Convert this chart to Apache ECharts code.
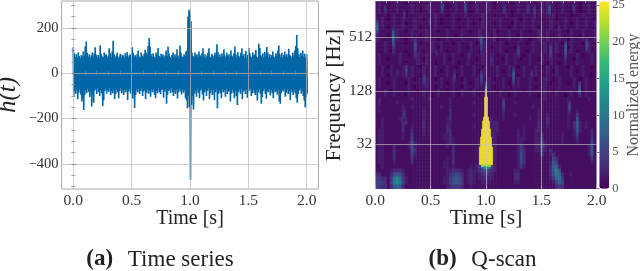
<!DOCTYPE html>
<html><head><meta charset="utf-8">
<style>html,body{margin:0;background:#fff}#c{width:640px;height:271px;filter:blur(.55px)}</style>
<script src="https://cdn.jsdelivr.net/npm/echarts@6/dist/echarts.min.js"></script>
</head><body><div id="c"></div>
<script>
// Time series: upper and lower excursions read along the band, 0 to 2 s
const strainUpper=[115,88,72,84,70,92,76,66,80,74,
96,78,118,140,90,72,84,68,78,92,
74,88,115,82,70,80,66,124,86,74,
70,92,78,84,68,76,110,88,72,96,
143,84,70,78,92,66,74,86,70,82,
78,68,88,74,94,70,78,84,66,115,
90,72,80,68,84,100,74,70,92,78,
72,86,104,92,80,120,156,118,84,72,
88,74,68,92,80,112,76,70,86,74,
84,68,78,100,74,118,86,72,66,80,
92,74,84,70,106,78,68,122,90,74,
72,84,78,96,100,250,280,270,230,90,
76,70,92,78,84,68,96,80,74,88,
110,72,84,66,78,92,110,74,70,86,
78,66,92,80,128,94,72,84,70,88,
74,106,80,68,90,76,84,70,100,78,
72,88,118,84,70,94,76,68,90,110,
76,84,70,98,66,82,112,88,74,70,
92,78,84,104,72,68,130,112,80,74,
88,70,94,76,116,90,72,84,68,80,
96,74,70,88,78,100,122,84,72,90,
68,80,96,74,84,70,108,82,76,68,
90,74,100,120,169,110,84,72,90,78,
100,74,86,70,84];
const strainLower=[-100,-78,-90,-70,-115,-86,-72,-94,-125,-110,
-162,-96,-74,-88,-68,-82,-105,-78,-147,-90,
-130,-76,-70,-92,-66,-84,-100,-74,-88,-145,
-120,-78,-70,-90,-74,-82,-66,-96,-78,-88,
-72,-115,-92,-70,-84,-110,-78,-66,-88,-74,
-96,-72,-84,-70,-118,-80,-68,-90,-76,-112,
-88,-153,-96,-72,-84,-70,-92,-78,-66,-100,
-80,-74,-115,-86,-70,-90,-78,-104,-72,-84,
-70,-96,-110,-76,-88,-68,-84,-92,-74,-70,
-108,-82,-72,-135,-96,-78,-70,-88,-66,-84,
-100,-76,-90,-72,-112,-84,-68,-80,-94,-72,
-86,-74,-110,-120,-155,-100,-150,-470,-140,-100,
-160,-90,-78,-104,-72,-86,-110,-76,-68,-94,
-120,-84,-72,-100,-78,-66,-115,-88,-74,-96,
-72,-118,-84,-70,-155,-92,-76,-88,-110,-70,
-84,-74,-104,-68,-92,-80,-76,-125,-90,-72,
-86,-110,-78,-100,-140,-84,-72,-90,-68,-115,
-80,-74,-92,-70,-108,-84,-76,-68,-100,-88,
-72,-86,-96,-74,-120,-84,-70,-90,-135,-105,
-78,-68,-92,-112,-76,-84,-70,-98,-74,-88,
-110,-72,-84,-76,-94,-68,-125,-135,-88,-74,
-80,-68,-104,-86,-72,-92,-78,-118,-70,-84,
-96,-74,-88,-110,-130,-92,-76,-68,-90,-78,
-100,-120,-150,-105,-90];
const timeTicks=[0,0.5,1,1.5,2];
const timeMinor=[-0.1,0.1,0.2,0.3,0.4,0.6,0.7,0.8,0.9,1.1,1.2,1.3,1.4,1.6,1.7,1.8,1.9,2.1];
const strainTicks=[-400,-200,0,200];
const strainMinor=[-500,-450,-350,-300,-250,-150,-100,-50,50,100,150,250,300];
const freqTicks=[32,128,512];
const energyTicks=[0,5,10,15,20,25];
const viridis=['#440154','#482878','#3e4989','#31688e','#26828e','#1f9e89','#35b779','#6ece58','#b5de2b','#fde725'];
// Q-scan energy, broad structure, top row first
const energy=[
[1,2,1,1,0,1,1,2,1,1,0,1,2,1,1,0,1,1,2,1,1,1,2,1,0,1,1,2,1,1,2,1,0,1,2,1,1,1,2,1,0,1,1,2,1,1,0,1,2,1,1,2,1,1,0,1,2,1,2,1,1,0,1,2,1,1,1,2,1,0,1,1,2,1,1],
[1,2,1,1,0,1,1,2,1,1,1,1,2,1,1,0,1,2,2,1,1,1,2,1,0,1,1,2,1,1,2,1,1,1,2,1,1,1,2,1,0,1,1,2,1,1,1,1,2,1,1,2,1,1,0,1,2,1,2,1,1,0,1,2,1,1,1,2,1,0,1,1,2,1,1],
[1,2,1,1,1,1,1,2,1,1,0,1,2,1,1,0,1,1,2,1,1,1,2,1,1,1,1,2,1,1,2,1,0,1,2,1,1,1,2,1,1,1,1,2,1,1,0,1,2,1,1,2,1,1,1,1,2,1,2,1,1,1,1,2,1,1,0,2,1,0,1,1,2,1,1],
[1,1,1,1,0,1,2,1,1,1,0,1,1,1,1,1,1,1,1,1,2,1,1,1,0,1,2,1,1,1,1,1,1,1,1,1,2,1,1,1,0,1,1,1,2,1,0,1,1,1,2,1,1,1,0,1,1,1,1,1,2,0,1,1,1,1,0,1,1,1,2,1,1,1,1],
[1,1,2,1,0,1,2,1,1,2,1,1,1,2,1,1,0,1,1,1,2,1,0,1,1,1,2,1,0,1,1,2,1,1,1,0,2,1,1,1,1,1,2,1,1,1,1,2,1,0,2,1,1,2,1,1,0,1,1,2,1,0,1,1,2,1,1,1,2,1,1,2,1,1,0],
[1,1,2,1,1,1,2,1,1,2,0,1,1,2,1,1,1,1,1,1,2,1,0,1,1,1,2,1,1,1,1,2,1,0,1,1,2,1,1,1,0,1,2,1,1,1,0,2,1,1,2,1,1,2,1,1,1,1,1,2,1,1,1,1,2,1,0,1,2,1,1,2,1,1,1],
[1,1,2,1,0,1,2,1,1,2,1,1,1,2,1,0,1,1,1,1,2,1,1,1,1,1,2,1,0,1,1,2,1,1,1,1,2,1,1,1,1,1,2,1,1,0,1,2,1,1,2,1,1,2,1,0,1,1,1,2,1,0,1,1,2,1,1,1,2,1,1,2,1,1,0],
[2,1,1,1,1,1,1,2,1,1,0,1,2,1,1,1,1,2,1,1,1,0,1,1,2,1,1,1,1,2,1,1,0,1,1,2,1,1,1,1,2,0,1,1,1,2,1,1,1,2,1,1,0,1,1,2,1,1,2,1,1,1,2,1,1,0,2,1,1,1,2,1,1,1,2],
[2,1,1,1,0,1,1,2,1,1,1,1,2,1,1,0,1,2,1,1,1,1,1,1,2,1,1,0,1,2,1,1,1,1,1,2,1,1,1,0,2,1,1,1,1,2,1,1,0,2,1,1,1,1,1,2,1,1,2,1,0,1,2,1,1,1,2,1,1,0,2,1,1,1,2],
[2,1,1,1,1,1,1,2,1,1,0,1,2,1,1,1,1,2,1,1,1,0,1,1,2,1,1,1,1,2,1,1,1,1,1,2,1,1,1,1,2,0,1,1,1,2,1,1,1,2,1,1,0,1,1,2,1,1,2,1,1,1,2,1,1,0,2,1,1,1,2,1,1,1,2],
[1,1,1,2,1,1,2,1,1,1,0,1,1,2,1,0,1,1,1,2,1,1,2,1,1,1,0,1,2,1,1,1,2,1,0,1,1,2,1,1,1,1,2,1,0,1,1,1,2,1,1,0,1,2,1,1,1,2,1,1,1,2,1,0,1,1,2,1,1,1,0,1,2,1,1],
[1,1,1,2,1,1,2,1,1,1,1,1,1,2,1,1,1,1,1,2,1,0,2,1,1,1,1,1,2,1,1,0,2,1,1,1,1,2,1,0,1,1,2,1,1,1,1,0,2,1,1,1,1,2,1,1,0,2,1,1,1,2,1,1,1,0,2,1,1,1,1,1,2,1,1],
[1,1,1,2,1,0,2,1,1,1,0,1,1,2,1,1,0,1,1,2,1,1,2,1,0,1,1,1,2,1,1,1,2,1,1,0,1,2,1,1,1,1,2,1,0,1,1,1,2,1,1,0,1,2,1,1,1,2,1,0,1,2,1,1,1,1,2,1,0,1,1,1,2,1,1],
[1,2,1,1,1,1,1,1,2,1,1,0,1,1,2,1,1,2,1,1,0,1,1,2,1,1,2,1,1,0,1,2,1,1,1,1,2,1,1,2,1,0,1,1,2,1,1,2,1,1,0,1,2,1,1,1,2,1,1,2,1,1,0,1,2,1,1,1,2,1,0,1,1,2,1],
[1,2,1,1,0,1,1,1,2,1,1,1,1,1,2,1,0,2,1,1,1,1,1,2,1,0,2,1,1,1,1,2,1,1,0,1,2,1,1,2,1,1,1,0,2,1,1,2,1,0,1,1,2,1,1,0,2,1,1,2,1,1,1,1,2,1,1,0,2,1,1,1,1,2,1],
[1,2,1,1,1,1,1,1,2,1,0,1,1,1,2,1,1,2,1,1,0,1,1,2,1,1,2,1,0,1,1,2,1,1,1,1,2,1,1,2,1,0,1,1,2,1,1,2,1,1,1,1,2,1,1,1,2,1,0,2,1,1,0,1,2,1,1,1,2,1,1,1,1,2,1],
[1,1,2,1,0,2,1,1,1,2,1,1,2,1,1,0,2,1,1,1,2,1,1,1,2,1,1,0,1,2,1,1,1,2,1,1,0,2,1,1,1,2,1,1,1,2,1,1,0,1,2,1,1,1,2,1,0,1,2,1,1,2,1,1,1,0,2,1,1,1,2,1,1,0,1],
[1,1,2,1,1,2,1,1,1,2,0,1,2,1,1,1,2,1,1,1,2,1,0,1,2,1,1,1,1,2,1,1,1,2,1,0,1,2,1,1,1,2,1,0,1,2,1,1,1,1,2,1,1,1,2,1,1,1,2,1,0,2,1,1,1,1,2,1,0,1,2,1,1,1,1],
[1,1,2,1,0,2,1,1,1,2,1,1,2,1,1,0,2,1,1,1,2,1,1,1,2,1,1,0,1,2,1,1,1,2,1,1,1,2,1,1,1,2,1,1,1,2,1,1,0,1,2,1,1,1,2,1,0,1,2,1,1,2,1,1,1,1,2,1,1,1,2,1,1,0,1],
[1,2,1,1,1,1,2,1,1,1,1,2,1,0,1,1,1,2,1,1,0,1,2,1,1,1,2,1,1,0,2,1,1,1,2,1,1,1,2,1,0,1,1,2,1,1,0,1,2,1,1,1,2,1,0,1,1,2,1,1,0,1,2,1,1,1,1,2,1,0,1,2,1,1,1],
[1,2,1,1,0,1,2,1,1,1,0,2,1,1,1,1,1,2,1,1,1,1,2,1,0,1,2,1,1,1,2,1,0,1,2,1,1,1,2,1,1,1,1,2,1,0,1,1,2,1,1,1,2,1,1,1,1,2,1,0,1,1,2,1,1,0,1,2,1,1,1,2,1,1,1],
[1,2,1,1,1,1,2,1,1,1,1,2,1,0,1,1,1,2,1,1,0,1,2,1,1,1,2,1,1,0,2,1,1,1,2,1,1,1,2,1,0,1,1,2,1,1,0,1,2,1,1,1,2,1,0,1,1,2,1,1,1,1,2,1,1,1,1,2,1,0,1,2,1,1,1],
[1,1,1,2,1,0,2,1,1,1,1,2,1,1,0,1,2,1,1,1,1,2,1,1,0,1,2,1,1,2,1,1,1,2,1,1,1,2,1,1,1,0,2,1,1,1,1,2,1,1,0,1,2,1,1,1,1,2,1,1,0,2,1,1,1,1,2,1,1,1,0,2,1,1,1],
[1,1,1,2,1,1,2,1,1,1,0,2,1,1,1,1,2,1,1,0,1,2,1,1,1,1,2,1,0,2,1,1,1,2,1,0,1,2,1,1,1,1,2,1,1,0,1,2,1,1,1,1,2,1,1,0,1,2,1,1,1,2,1,1,0,1,2,1,1,1,1,2,1,1,1],
[1,1,1,1,1,1,1,1,1,1,1,1,2,1,1,1,1,1,2,1,1,1,1,1,1,2,1,1,1,1,1,1,1,1,1,1,1,1,1,1,1,1,1,2,1,1,1,1,1,1,1,1,1,1,1,1,1,2,1,1,1,1,1,1,1,2,1,1,1,1,1,1,2,1,1],
[1,1,1,1,1,1,1,2,1,1,1,1,1,1,1,1,1,1,1,1,1,1,1,1,1,2,1,1,1,1,1,1,1,2,1,1,1,1,1,1,1,1,1,2,1,1,1,2,1,1,1,1,1,1,1,1,1,1,1,1,1,1,1,1,1,2,1,1,1,1,1,1,1,1,1],
[1,1,1,1,1,1,1,1,1,2,1,1,2,1,1,1,1,1,1,1,1,1,2,1,1,2,1,1,1,1,1,1,1,1,1,1,1,1,1,1,1,1,1,2,1,1,1,1,1,1,1,1,1,2,1,1,1,1,1,1,1,1,1,1,1,2,1,1,1,1,1,1,1,1,1],
[1,2,1,1,1,1,1,1,1,2,1,1,1,1,1,1,2,1,1,1,1,1,1,1,1,3,1,1,1,1,1,1,1,1,1,1,1,1,1,1,1,1,1,2,1,1,1,1,1,1,1,1,1,1,1,2,1,1,1,1,1,1,1,1,1,2,1,1,2,1,1,1,1,1,1],
[1,1,1,1,1,1,1,1,1,3,1,1,1,1,1,1,2,1,1,1,1,1,1,1,1,3,1,1,1,1,1,1,1,2,1,1,1,1,1,1,1,1,1,2,1,1,1,2,1,1,1,1,1,1,1,2,1,1,2,1,1,1,1,1,1,2,1,1,4,1,1,1,1,1,1],
[1,1,2,1,1,1,1,1,2,3,2,1,1,1,1,1,2,1,1,1,1,1,1,1,2,3,1,1,1,1,1,1,1,1,1,1,1,1,1,2,1,1,1,2,1,1,1,1,1,1,1,1,2,1,1,2,1,1,3,1,1,1,1,1,1,2,1,1,6,1,1,1,1,1,1],
[1,1,2,1,1,1,1,1,1,3,3,1,1,1,1,1,3,1,1,1,1,1,1,1,2,2,1,1,1,1,1,1,1,1,1,1,1,1,1,2,2,2,1,1,1,1,1,1,1,1,1,1,1,1,1,3,1,1,3,1,1,1,1,1,1,2,1,3,7,2,1,2,1,1,1],
[1,1,2,1,1,1,1,1,1,3,1,1,2,1,1,1,3,1,1,1,1,1,1,1,3,2,1,1,1,1,1,1,1,2,1,1,1,1,2,2,2,2,1,1,1,1,1,1,1,1,2,1,1,1,1,3,1,1,2,1,1,1,1,1,1,2,1,3,7,2,1,2,1,1,1],
[1,2,2,1,1,1,1,1,1,3,1,1,3,1,1,1,2,1,1,1,1,1,1,1,3,3,1,1,1,1,1,1,1,1,1,1,1,1,2,2,2,2,1,1,1,1,1,1,2,1,2,1,1,1,2,3,1,1,1,1,1,1,1,1,1,1,1,2,6,2,1,1,1,3,1],
[1,2,2,1,1,1,1,1,1,2,1,1,4,1,1,1,2,1,1,1,1,1,1,2,2,3,1,1,1,1,1,1,1,1,1,1,1,2,2,2,2,1,1,1,1,1,1,1,2,1,2,1,1,1,2,1,4,1,1,1,1,1,1,2,1,1,1,2,5,1,1,1,1,3,1],
[1,2,2,1,1,1,1,1,1,2,1,1,5,1,1,1,1,1,1,1,1,1,1,2,2,3,2,1,1,1,1,1,1,1,1,1,1,2,2,2,2,1,1,1,1,1,1,1,2,2,2,1,1,1,2,2,5,1,1,1,1,1,1,2,1,1,1,1,3,1,1,1,1,4,1],
[1,2,2,1,1,1,1,1,1,1,1,2,6,2,1,1,1,1,1,1,1,1,1,1,2,3,2,1,1,1,1,1,1,1,1,2,2,2,2,2,2,1,1,1,1,1,1,1,2,2,1,1,1,1,2,2,6,2,1,1,1,1,1,2,1,1,1,1,2,1,1,1,1,5,1],
[1,2,2,1,1,1,3,1,1,1,1,2,6,2,1,1,1,1,1,1,1,1,1,1,2,1,3,1,1,1,1,1,1,1,1,3,1,1,1,3,2,1,1,1,1,1,1,1,2,4,2,1,1,1,2,2,6,3,1,1,1,1,1,1,1,1,1,1,1,1,1,1,2,6,1],
[1,2,2,1,1,1,3,1,1,1,1,1,6,3,1,1,1,1,1,1,1,1,1,1,1,1,3,1,1,1,1,1,1,1,1,3,1,1,1,3,2,1,1,1,1,1,1,1,2,5,3,1,1,1,2,2,5,2,1,3,1,1,1,1,1,1,1,1,1,1,1,1,2,7,1],
[1,2,2,1,1,1,3,1,1,1,1,1,5,2,1,1,1,1,1,1,1,1,1,1,1,1,3,1,1,1,1,1,1,1,1,3,1,1,1,3,2,1,1,1,1,1,1,1,2,6,3,1,1,1,1,1,4,1,1,2,3,1,1,1,1,1,1,1,1,1,1,1,2,6,1],
[1,2,2,1,1,1,3,1,1,1,1,1,4,1,1,1,1,1,1,1,1,1,1,1,2,1,3,1,1,1,1,1,1,1,1,3,1,1,1,3,2,1,1,1,1,1,1,1,2,6,3,1,1,1,1,1,1,1,1,1,5,3,1,1,1,1,1,1,1,1,1,1,1,4,1],
[1,2,2,1,1,1,2,1,1,1,1,1,3,1,1,1,1,1,1,1,1,1,1,2,2,1,3,1,1,1,1,1,1,1,1,4,1,1,1,4,2,1,1,1,1,1,1,1,2,5,3,1,1,1,1,1,1,1,1,2,6,5,1,1,1,1,1,1,1,1,1,1,1,2,1],
[1,1,2,1,1,1,1,1,1,1,1,1,1,1,1,1,1,1,1,1,1,1,1,2,2,1,2,1,1,1,1,1,2,1,2,5,10,13,10,5,2,1,1,1,1,1,1,1,2,4,2,1,1,1,1,1,1,1,1,3,7,7,2,1,1,1,1,1,1,1,1,1,1,1,1],
[1,1,1,1,1,2,3,3,3,2,1,1,1,1,1,1,1,1,1,1,1,1,1,1,2,2,3,3,3,2,1,2,3,2,2,3,5,6,5,3,2,1,1,1,1,1,1,2,2,1,1,1,1,1,1,1,1,1,1,3,7,10,6,1,1,1,1,1,1,1,1,1,1,1,1],
[3,3,1,1,1,3,6,7,6,3,1,1,1,1,1,1,1,1,1,1,1,1,1,1,2,3,5,6,5,3,1,2,3,2,1,2,3,4,3,2,1,1,1,1,1,1,1,3,3,1,1,1,1,1,1,1,1,1,1,3,6,10,8,3,1,1,2,1,1,1,1,1,1,1,1],
[4,4,3,3,1,4,9,12,9,4,2,1,1,1,1,1,1,1,1,1,1,1,1,2,2,4,6,7,6,4,1,2,3,2,1,2,2,3,2,2,1,1,1,1,1,1,1,3,3,1,1,1,1,1,1,1,1,1,1,2,4,8,9,4,1,1,1,1,1,1,1,1,1,1,1],
[5,5,4,3,1,5,10,13,10,5,2,1,1,1,1,1,1,1,1,1,1,1,1,2,2,4,6,7,6,4,1,2,3,2,1,1,2,2,2,1,1,1,1,1,1,1,1,2,2,1,1,1,1,1,1,1,1,1,1,1,2,5,8,5,1,1,1,1,1,1,1,1,1,1,1],
[5,4,3,3,1,3,7,8,7,3,1,1,1,1,1,1,1,1,1,1,1,1,1,1,2,3,4,4,4,3,1,1,2,1,1,1,1,1,1,1,1,1,1,1,1,1,1,1,1,1,1,1,1,1,1,1,1,1,1,1,1,3,4,3,1,1,1,1,1,1,1,1,1,1,1]
];
// Thin vertical streaks: fine column, first fine row, energy down the streak
const streakCol=[1,17,39,30,48,66,89,105,105,78,137,142,158,173,174,189,203,210,127,193,3,28,9,28,53,128,152,182,197,219,115,60,93,21,155,170];
const streakRow=[9,13,18,31,35,1,0,16,34,34,32,21,2,1,21,19,40,18,48,49,48,53,1,4,8,1,1,11,1,9,27,24,25,34,34,37];
const streakLevels=[[3,5,7,8,8,7,5,3],[3,5,7,8,9,9,8,7,6,5,4,3,3,2],[2,4,5,6,6,6,5,4,4,3,2],[2,4,5,6,5,4,3,2],[2,3,4,5,5,4,3,2],[4,6,6,5,3],[3,5,6,6,5,4,3,2],[2,4,6,7,7,6,5,5,4,3,3,2],[2,4,5,6,6,5,4,3],[2,3,4,5,4,3,2],[2,3,5,7,8,8,7,6,5,4,3,2],[2,3,4,5,5,4,3,2],[3,4,5,5,4,3,2],[3,5,7,7,6,4,3,2],[2,4,5,6,6,5,4,3,2],[2,4,6,8,8,8,7,6,5,4,3,2],[3,5,7,8,8,7,5,3],[2,4,5,6,6,5,4,2],[2,4,5,6,5,5,4,3],[2,3,5,6,6,5,3,2],[2,3,3,3,2],[2,3,4,4,4,3,2],[2,3,4,4,3,2],[2,3,4,4,3,2],[2,3,3,3,2],[2,3,4,4,3],[2,3,4,4,3],[2,3,3,3,2],[2,4,4,3,2],[2,3,3,3,2],[2,3,4,3,2],[2,3,3,2],[2,3,3,2],[2,3,3,2],[2,3,4,3,2],[2,3,3,2]];
// Bright event: half width and value of each fine row of the trigger, from 128 Hz downward
const peakHalfWidth=[0,0,0,0,0,0,0,0,1,1,1,1,1,1,1,1,1,1,2,2,3,3,3,3,4,4,4,4,5,5,5,5,5,6,6,6,6,6,6,6,6,6,4,2];
const peakValue=[6,10,14,18,22,25,25,25,25,25,25,25,25,25,25,25,25,25,25,25,25,25,25,25,25,25,25,25,25,25,25,25,25,25,25,25,25,25,25,25,25,25,22,13];

const FONT='"Liberation Serif",serif', TXT='#333', SPINE='#aaa';
const rowsN=energy.length, colsN=energy[0].length;
const fineCols=221, fineRows=94, peakStart=40;
const idx=n=>Array.from({length:n},(_,i)=>i);
const energyData=[];
energy.forEach((row,r)=>row.forEach((v,c)=>energyData.push([c,r,v])));
const fineData=[];
streakCol.forEach((col,s)=>streakLevels[s].forEach((v,i)=>{fineData.push([col,streakRow[s]+i,v]);fineData.push([col+1,streakRow[s]+i,v]);}));
peakHalfWidth.forEach((h,i)=>{for(let d=-h;d<=h;d++)fineData.push([110+d,peakStart+i,peakValue[i]]);});
const strain=[];
strainUpper.forEach((u,i)=>{strain.push([2*i/234,u]);strain.push([2*(i+0.5)/234,strainLower[i]]);});

function axis(base){return Object.assign({type:'value',z:5,axisLine:{show:false},splitLine:{show:false},axisLabel:{show:false},axisTick:{show:false}},base);}
function ticks(vals,len,color){return {show:true,inside:true,length:len,customValues:vals,lineStyle:{color:color||'#888',width:0.8}};}
const hiddenCat=(n,grid,extra)=>Object.assign({type:'category',show:false,gridIndex:grid,data:idx(n)},extra||{});
const nameStyle=size=>({fontFamily:FONT,fontSize:size,color:'#222'});
const lab=(vals,size,fmt,margin,color)=>({show:true,customValues:vals,fontFamily:FONT,fontSize:size,color:color||TXT,margin:margin,formatter:fmt,hideOverlap:false,showMinLabel:true,showMaxLabel:true});
const tf=v=>Number(v).toFixed(1);
const gridLine=c=>({show:true,lineStyle:{color:c,width:1}});
const capStyle={fontFamily:FONT,fontSize:23,fontWeight:'normal',color:'#222',rich:{b:{fontFamily:FONT,fontSize:23,fontWeight:'bold',color:'#222',padding:[0,9,0,0]}}};

const LX=[-0.1,2.1], LY=[-511,319], RY=[Math.log2(10.1),Math.log2(1296)];

const option={
 animation:false,backgroundColor:'#fff',
 title:[
  {text:'{b|(a)} Time series',left:155,top:243,textAlign:'center',textStyle:capStyle},
  {text:'{b|(b)} Q-scan',left:477.5,top:243,textAlign:'center',textStyle:capStyle}
 ],
 grid:[
  {left:61.6,top:1,width:256.8,height:188,show:true,borderColor:SPINE,borderWidth:1,backgroundColor:'#fff',outerBoundsMode:'none'},
  {left:375.3,top:1.5,width:221.4,height:187.2,show:true,borderColor:SPINE,borderWidth:0.6,backgroundColor:'transparent',outerBoundsMode:'none'},
  {left:599.3,top:1.5,width:10,height:187.2,outerBoundsMode:'none'}
 ],
 xAxis:[
  axis({gridIndex:0,min:LX[0],max:LX[1],position:'bottom',axisTick:ticks(timeTicks,3.5),splitLine:gridLine('rgba(185,185,185,.7)'),axisLabel:lab(timeTicks,15.5,tf,4),name:'Time [s]',nameLocation:'middle',nameGap:20,nameMoveOverlap:false,nameTextStyle:nameStyle(20)}),
  axis({gridIndex:0,min:LX[0],max:LX[1],position:'bottom',axisTick:ticks(timeMinor,2)}),
  axis({gridIndex:0,min:LX[0],max:LX[1],position:'top',axisTick:ticks(timeTicks.concat(timeMinor),2)}),
  hiddenCat(colsN,1),
  hiddenCat(fineCols,1),
  axis({gridIndex:1,min:0,max:2,position:'bottom',axisTick:ticks(timeTicks,3,'#bbb'),splitLine:gridLine('rgba(200,200,200,.62)'),axisLabel:lab(timeTicks,15.5,tf,4),name:'Time [s]',nameLocation:'middle',nameGap:19,nameMoveOverlap:false,nameTextStyle:nameStyle(21.5)}),
  axis({gridIndex:1,min:0,max:2,position:'top',axisTick:ticks(timeMinor.slice(1,-1),1.5,'#bbb')}),
  axis({gridIndex:2,min:0,max:1,show:false})
 ],
 yAxis:[
  axis({gridIndex:0,min:LY[0],max:LY[1],position:'left',axisTick:ticks(strainTicks,3.5),splitLine:gridLine('rgba(185,185,185,.7)'),axisLabel:lab(strainTicks,14.5,v=>String(v).replace('-','\u2212'),3),name:'h(t)',nameLocation:'middle',nameGap:41,nameRotate:90,nameMoveOverlap:false,nameTextStyle:Object.assign(nameStyle(25),{fontStyle:'italic'})}),
  axis({gridIndex:0,min:LY[0],max:LY[1],position:'left',axisTick:ticks(strainMinor,2)}),
  axis({gridIndex:0,min:LY[0],max:LY[1],position:'right',axisTick:ticks(strainTicks.concat(strainMinor),2)}),
  hiddenCat(rowsN,1,{inverse:true}),
  hiddenCat(fineRows,1,{inverse:true}),
  axis({gridIndex:1,min:RY[0],max:RY[1],position:'left',axisTick:ticks(freqTicks.map(Math.log2),0.01),splitLine:gridLine('rgba(200,200,200,.62)'),axisLabel:lab(freqTicks.map(Math.log2),15.5,v=>String(Math.round(Math.pow(2,v))),3),name:'Frequency [Hz]',nameLocation:'middle',nameGap:30,nameRotate:90,nameMoveOverlap:false,nameTextStyle:nameStyle(21)}),
  axis({gridIndex:2,min:0,max:25.5,position:'right',axisTick:ticks(energyTicks,2,'#333'),axisLabel:lab(energyTicks,12.5,v=>String(v),3,'#555'),name:'Normalized energy',nameLocation:'middle',nameGap:16,nameRotate:90,nameMoveOverlap:false,nameTextStyle:{fontFamily:FONT,fontSize:16,color:'#555'}})
 ],
 visualMap:{type:'continuous',seriesIndex:[1,2],dimension:2,min:0,max:25.5,left:599.3,top:1.5,itemWidth:10,itemHeight:187.2,padding:0,text:null,calculable:false,hoverLink:false,inRange:{color:viridis}},
 series:[
  {type:'line',xAxisIndex:0,yAxisIndex:0,data:strain,showSymbol:false,symbol:'none',silent:true,lineStyle:{color:'#0066a6',width:1.6,join:'miter'},z:2},
  {type:'heatmap',xAxisIndex:3,yAxisIndex:3,data:energyData,silent:true,z:2},
  {type:'heatmap',xAxisIndex:4,yAxisIndex:4,data:fineData,silent:true,z:3}
 ]
};
echarts.init(document.getElementById('c'),null,{renderer:'canvas'}).setOption(option);
</script></body></html>
